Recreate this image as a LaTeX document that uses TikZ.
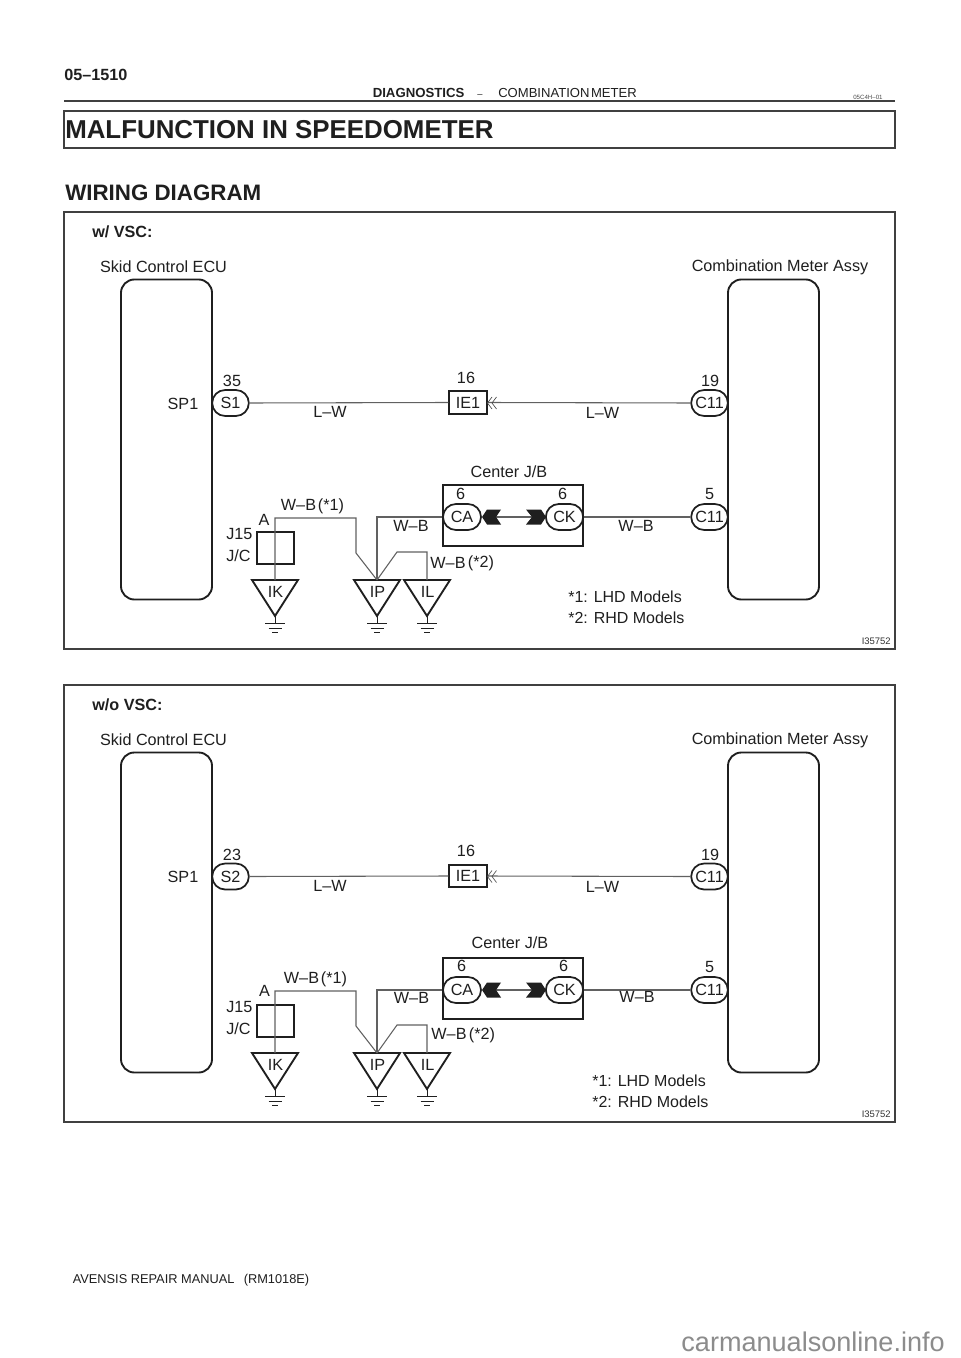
\documentclass[tikz,border=0pt]{standalone}
\usepackage{fontspec}
\setmainfont{Liberation Sans}
\usetikzlibrary{shapes.misc}
\definecolor{ink}{gray}{0.12}
\tikzset{
  lbl/.style={inner sep=0pt,text=ink,font=\fontsize{12.15}{14}\selectfont},
  lblb/.style={lbl,font=\fontsize{12.15}{14}\selectfont\bfseries},
  note/.style={lbl,anchor=west,font=\fontsize{12}{14}\selectfont},
  frame/.style={draw=ink!85,line width=1.2pt},
  wire/.style={draw=black!62,line width=0.8pt},
  unit/.style={rectangle,rounded corners=10pt,draw=ink,line width=1.4pt,minimum width=68.25pt,minimum height=240pt,inner sep=0pt},
  conn/.style={rounded rectangle,draw=ink,line width=1.3pt,fill=white,minimum width=27.5pt,minimum height=19.5pt,inner sep=0pt,text=ink,font=\fontsize{12.15}{14}\selectfont},
  boxn/.style={rectangle,draw=ink,line width=1.6pt,inner sep=0pt},
  tri/.style={draw=ink,line width=1.4pt,line join=miter},
  gnd/.style={draw=ink},
  tip/.style={fill=ink,draw=none},
  chev/.style={draw=black!70,line width=0.5pt},
  figid/.style={lbl,anchor=east,font=\fontsize{7.1}{8}\selectfont,text=black!80}
}
% one ground triangle: #1 name stem, #2 x, #3 text
\newcommand{\gtri}[3]{%
  \coordinate (#1T) at (#2,580);
  \coordinate (#1A) at (#2,616);
  \draw[tri] (#2-23,580) -- (#2+23,580) -- (#1A) -- cycle;
  \node[lbl] (#1L) at (#2+0.5,591.5) {#3};
  \draw[gnd,line width=0.7pt] (#1A) -- (#2,623.5);
  \draw[gnd,line width=1.2pt] (#2-10,623.5) -- (#2+10,623.5);
  \draw[gnd,line width=0.6pt] (#2-6.5,628.5) -- (#2+6.5,628.5);
  \draw[gnd,line width=0.5pt] (#2-3,632.5) -- (#2+3,632.5);
}
% drawing common to both panels; #1 = text of the left connector, #2 = extra y of the upper wire
\newcommand{\panelgeom}[2]{%
  \node[unit] (ecu) at (166.5,439.5) {};
  \node[unit] (meter) at (773.5,439.5) {};
  \node[conn] (s) at (230.5,403+#2) {#1};
  \node[boxn,minimum width=28pt,minimum height=17pt,font=\fontsize{12.15}{14}\selectfont,text=ink] (ie) at (468,402.5+#2) {IE1};
  \node[conn] (cu) at (709.5,403+#2) {C11};
  \draw[wire] (s.east) -- (ie.west);
  \draw[wire] (ie.east) -- (cu.west);
  \draw[chev] (492,397+#2) -- (487.5,403+#2) -- (492,409+#2);
  \draw[chev] (496.5,397+#2) -- (492,403+#2) -- (496.5,409+#2);
  \node[boxn,minimum width=105pt,minimum height=45.5pt] (jb) at (513,515.5) {};
  \node[conn,minimum width=28.5pt] (ca) at (462,517) {CA};
  \node[conn,minimum width=28pt] (ck) at (564.5,517) {CK};
  \node[conn] (cl) at (709.5,517) {C11};
  \coordinate (tl) at (496,517);
  \coordinate (tr) at (532,517);
  \draw[wire] (tl) -- (tr);
  \fill[tip] (482,517) -- (487,509.5) -- (501,509.5) -- (tl) -- (501,524.5) -- (487,524.5) -- cycle;
  \fill[tip] (546,517) -- (541,509.5) -- (526,509.5) -- (tr) -- (526,524.5) -- (541,524.5) -- cycle;
  \draw[wire] (ck.east) -- (cl.west);
  \node[boxn,minimum width=27.75pt,minimum height=24pt] (jc) at (275.5,548) {};
  \gtri{ik}{275}{IK}
  \gtri{ip}{377}{IP}
  \gtri{il}{427}{IL}
  \coordinate (ja) at (275,518);
  \coordinate (k1) at (356,518);
  \coordinate (k2) at (356,553);
  \coordinate (k3) at (397,552);
  \coordinate (k4) at (427,552);
  \draw[wire] (ikT) -- (ja) -- (k1) -- (k2) -- (ipT);
  \draw[wire] (ipT) |- (ca.west);
  \draw[wire] (ipT) -- (k3) -- (k4) -- (ilT);
}
\begin{document}
\begin{tikzpicture}[x=0.75pt,y=-0.75pt]
\useasboundingbox[fill=white] (0,0) rectangle (960,1358);
% page header
\node[lblb,anchor=west] (page) at (64,75) {05--1510};
\coordinate (ruleL) at (64,101);
\coordinate (ruleR) at (895,101);
\draw[frame] (ruleL) -- (ruleR);
\node[lbl,anchor=west,font=\fontsize{9.9}{12}\selectfont\bfseries] (sec) at (372.5,93) {DIAGNOSTICS};
\node[lbl,anchor=west,font=\fontsize{7}{12}\selectfont] (dash) at (477,96) {--};
\node[lbl,anchor=west,font=\fontsize{9.8}{12}\selectfont] (sub) at (498,93) {COMBINATION\hspace{1.2pt}METER};
\node[lbl,anchor=west,font=\fontsize{4.6}{6}\selectfont,text=black!70] (code) at (853,97.5) {05C4H--01};
\node[frame,draw,rectangle,minimum width=623pt,minimum height=27.5pt,inner sep=0pt] (titlebox) at (479.5,129.5) {};
\node[lblb,anchor=west,font=\fontsize{19.4}{22}\selectfont\bfseries] (title) at (65,129.5) {MALFUNCTION IN SPEEDOMETER};
\node[lblb,anchor=west,font=\fontsize{16.75}{20}\selectfont\bfseries] (wd) at (65,192.5) {WIRING DIAGRAM};
% panel 1
\node[frame,draw,rectangle,minimum width=623pt,minimum height=327.75pt,inner sep=0pt] (p1) at (479.5,430.5) {};
\begin{scope}[name prefix=a-]
  \panelgeom{S1}{0}
\end{scope}
\node[lblb,anchor=west] (a1) at (92,232) {w/ VSC:};
\node[lbl] (a2) at (163.5,267) {Skid Control ECU};
\node[lbl] (a3) at (780,267) {Combination Meter Assy};
\node[lbl] (a4) at (183,404) {SP1};
\node[lbl] (a5) at (232,381) {35};
\node[lbl] (a6) at (466,378) {16};
\node[lbl] (a7) at (710,381) {19};
\node[lbl] (a8) at (330,412) {L--W};
\node[lbl] (a9) at (602.5,413) {L--W};
\node[lbl] (a10) at (509,472) {Center J/B};
\node[lbl] (a11) at (460.5,494) {6};
\node[lbl] (a12) at (562.5,494) {6};
\node[lbl] (a13) at (709.5,494) {5};
\node[lbl] (a14) at (298.5,505) {W--B};
\node[lbl] (a15) at (331,506) {(*1)};
\node[lbl] (a16) at (264,520) {A};
\node[lbl,anchor=west] (a17) at (226,534) {J15};
\node[lbl,anchor=west] (a18) at (226,556) {J/C};
\node[lbl] (a19) at (411,526) {W--B};
\node[lbl] (a20) at (636,526) {W--B};
\node[lbl] (a21) at (448,563) {W--B};
\node[lbl] (a22) at (481,563) {(*2)};
\node[note] (a23) at (568,597) {*1: LHD Models};
\node[note] (a24) at (568,618) {*2: RHD Models};
\node[figid] (a25) at (891,641) {I35752};
% panel 2
\node[frame,draw,rectangle,minimum width=623pt,minimum height=327.75pt,inner sep=0pt] (p2) at (479.5,903.5) {};
\begin{scope}[shift={(0,473)},name prefix=b-]
  \panelgeom{S2}{0.5}
\end{scope}
\node[lblb,anchor=west] (b1) at (92,705) {w/o VSC:};
\node[lbl] (b2) at (163.5,740) {Skid Control ECU};
\node[lbl] (b3) at (780,740) {Combination Meter Assy};
\node[lbl] (b4) at (183,877) {SP1};
\node[lbl] (b5) at (232,855) {23};
\node[lbl] (b6) at (466,851) {16};
\node[lbl] (b7) at (710,855) {19};
\node[lbl] (b8) at (330,886) {L--W};
\node[lbl] (b9) at (602.5,887) {L--W};
\node[lbl] (b10) at (510,943) {Center J/B};
\node[lbl] (b11) at (461.5,966) {6};
\node[lbl] (b12) at (563.5,966) {6};
\node[lbl] (b13) at (709.5,967) {5};
\node[lbl] (b14) at (301.5,977.5) {W--B};
\node[lbl] (b15) at (334,979) {(*1)};
\node[lbl] (b16) at (264.5,991) {A};
\node[lbl,anchor=west] (b17) at (226,1007) {J15};
\node[lbl,anchor=west] (b18) at (226,1029) {J/C};
\node[lbl] (b19) at (411.5,998) {W--B};
\node[lbl] (b20) at (637,997) {W--B};
\node[lbl] (b21) at (449,1034) {W--B};
\node[lbl] (b22) at (482,1035) {(*2)};
\node[note] (b23) at (592,1081) {*1: LHD Models};
\node[note] (b24) at (592,1102) {*2: RHD Models};
\node[figid] (b25) at (891,1114) {I35752};
% footer
\node[lbl,anchor=west,font=\fontsize{9.6}{12}\selectfont] (foot) at (72.5,1280) {AVENSIS REPAIR MANUAL\hspace{7pt}(RM1018E)};
\node[lbl,anchor=east,font=\fontsize{20.3}{24}\selectfont,text=black!45] (mark) at (945,1342) {carmanualsonline.info};
\end{tikzpicture}
\end{document}
